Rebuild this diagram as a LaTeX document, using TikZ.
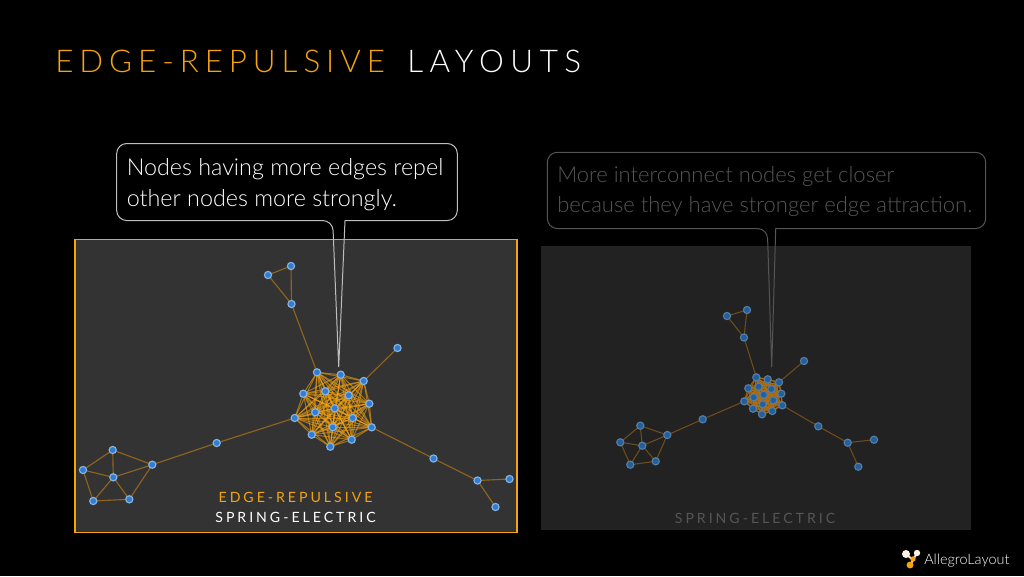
\documentclass[tikz,border=0pt]{standalone}
\usepackage{fontspec}
\setmainfont{Lato Light}[BoldFont={Lato}]
\newfontfamily\spaced{Lato}[LetterSpace=21]
\newfontfamily\spacedl{Lato Light}[LetterSpace=19]
\newfontfamily\spacedm{Lato Light}[LetterSpace=21]
\definecolor{org}{HTML}{F5A30F}
\definecolor{edgel}{HTML}{8F6420}
\definecolor{edgeb}{HTML}{6E4C1B}
\definecolor{nlf}{RGB}{50,125,210}
\definecolor{nld}{RGB}{135,180,225}
\definecolor{nrf}{RGB}{35,95,155}
\definecolor{nrd}{RGB}{85,125,165}
\definecolor{crc}{RGB}{175,110,15}
\definecolor{pa}{RGB}{51,51,51}
\definecolor{pb}{RGB}{34,34,34}
\definecolor{dim}{RGB}{85,85,85}
\definecolor{lite}{RGB}{190,190,190}
\begin{document}
\begin{tikzpicture}[x=0.75pt,y=-0.75pt,
 ln/.style={circle,draw=nld,line width=0.85pt,fill=nlf,inner sep=0pt,minimum size=5.4pt},
 rn/.style={circle,draw=nrd,line width=0.85pt,fill=nrf,inner sep=0pt,minimum size=5.4pt},
 le/.style={draw=edgel,line width=0.85pt},
 re/.style={draw=edgeb,line width=0.8pt},
 ce/.style={draw=org,line width=0.7pt,opacity=0.36},
 cr/.style={draw=crc,line width=0.7pt,opacity=0.6},
 txt/.style={text=white,anchor=base west,inner sep=0pt}]
\useasboundingbox (0,0) rectangle (1024,576);
\fill[black] (0,0) rectangle (1024,576);
\node[txt,font=\spacedl\fontsize{23.5pt}{28pt}\selectfont] (t1) at (55,72) {\textcolor{org}{EDGE-REPULSIVE}};
\node[txt,font=\spacedm\fontsize{23.5pt}{28pt}\selectfont] (t2) at (407,72) {LAYOUTS};
% panels
\node[draw=org,line width=1.05pt,outer sep=0pt,fill=pa,minimum width=331.5pt,minimum height=219.9pt,inner sep=0pt,anchor=north west] (pl) at (75,239.5) {};
\node[fill=pb,minimum width=322.5pt,minimum height=213pt,inner sep=0pt,outer sep=0pt,anchor=north west] (pr) at (541,246) {};
% left graph
\foreach \n/\x/\y in {a/317/372.3,b/340.7/374.7,c/363.7/381,d/303.3/393.7,e/325.3/391.3,f/348.7/395.3,g/369.3/403.7,h/334.7/408.3,i/315.3/412.3,j/352.7/418,k/294.7/418,l/332.7/427.3,m/371.7/427.3,n/311.7/434.7,o/351.7/439.7,p/330.3/446.7}
  {\coordinate (\n) at (\x,\y);}
\foreach \n/\x/\y in {a/756.3/377.3,b/767.7/379.3,c/779/382.3,d/748.3/388.3,e/758.7/386.7,f/771.3/389,g/781.3/393.7,h/763.7/394.7,i/753.7/397.3,j/773.3/400.3,k/744.3/401.3,l/762.7/404.3,m/782.3/405.3,n/753/408.7,o/772.3/411,p/762/414.3}
  {\coordinate (r\n) at (\x,\y);}
\foreach \u in {a,b,c,d,e,f,g,h,i,j,k,l,m,n,o,p}{
 \foreach \v in {a,b,c,d,e,f,g,h,i,j,k,l,m,n,o,p}{
  \ifx\u\v\else
   \draw[ce] (\u) -- (\v);
   \draw[cr] (r\u) -- (r\v);
  \fi
 }}
\coordinate (l1) at (268,275);\coordinate (l2) at (291,266);\coordinate (l3) at (291.5,304);
\coordinate (l4) at (397.5,348);\coordinate (l5) at (216.7,443);\coordinate (l6) at (152.3,464.7);
\coordinate (l7) at (112.7,450);\coordinate (l8) at (83,470);\coordinate (l9) at (113.3,477.3);
\coordinate (l10) at (93.3,501);\coordinate (l11) at (129.3,499.3);
\coordinate (l12) at (433.5,458.5);\coordinate (l13) at (477.5,480.5);\coordinate (l14) at (509.5,479);\coordinate (l15) at (495.5,507);
\foreach \u/\v in {l1/l2,l1/l3,l2/l3,l3/a,c/l4,k/l5,l5/l6,l6/l7,l6/l9,l6/l11,l7/l8,l7/l9,l8/l9,l8/l10,l9/l10,l9/l11,l10/l11,m/l12,l12/l13,l13/l14,l13/l15}
  \draw[le] (\u) -- (\v);
\foreach \p in {a,b,c,d,e,f,g,h,i,j,k,l,m,n,o,p,l1,l2,l3,l4,l5,l6,l7,l8,l9,l10,l11,l12,l13,l14,l15}
  \node[ln] (nl\p) at (\p) {};
% right graph
\coordinate (r1) at (727,316);\coordinate (r2) at (747,310);\coordinate (r3) at (744,337.5);
\coordinate (r4) at (804,361);\coordinate (r5) at (702.7,419.3);\coordinate (r6) at (667.3,435);
\coordinate (r7) at (640.3,425.7);\coordinate (r8) at (620.3,442.3);\coordinate (r9) at (642.3,445.7);
\coordinate (r10) at (630.3,464.7);\coordinate (r11) at (655.7,461.3);
\coordinate (r12) at (818.3,426.3);\coordinate (r13) at (847.7,442.7);\coordinate (r14) at (874,439.7);\coordinate (r15) at (858.3,466.7);
\foreach \u/\v in {r1/r2,r1/r3,r2/r3,r3/ra,rc/r4,rk/r5,r5/r6,r6/r7,r6/r9,r6/r11,r7/r8,r7/r9,r8/r9,r8/r10,r9/r10,r9/r11,r10/r11,rm/r12,r12/r13,r13/r14,r13/r15}
  \draw[re] (\u) -- (\v);
\foreach \p in {ra,rb,rc,rd,re,rf,rg,rh,ri,rj,rk,rl,rm,rn,ro,rp,r1,r2,r3,r4,r5,r6,r7,r8,r9,r10,r11,r12,r13,r14,r15}
  \node[rn] (nr\p) at (\p) {};
% panel labels
\node[font=\spaced\fontsize{10.6pt}{12pt}\selectfont,text=org,inner sep=0pt,anchor=base] (lb1) at (295.5,502.5) {EDGE-REPULSIVE};
\node[font=\spaced\fontsize{10.6pt}{12pt}\selectfont,text=white,inner sep=0pt,anchor=base] (lb2) at (295.5,522) {SPRING-ELECTRIC};
\node[font=\spaced\fontsize{10.6pt}{12pt}\selectfont,text=dim,inner sep=0pt,anchor=base] (lb3) at (755,523) {SPRING-ELECTRIC};
% callouts
\coordinate (t1a) at (332.7,220.5);\coordinate (t1b) at (345,220.5);\coordinate (t1t) at (338.7,367);
\coordinate (t2a) at (767.3,228.5);\coordinate (t2b) at (775.7,228.5);\coordinate (t2t) at (771.7,367);
\draw[draw=lite,line width=0.75pt,rounded corners=7.5pt]
 (t1b) -- (457.3,220.5) -- (457.3,143.5) -- (116.7,143.5) -- (116.7,220.5) -- (t1a) [sharp corners] -- (t1t) -- (t1b);
\draw[draw=dim,line width=0.75pt,rounded corners=7.5pt]
 (t2b) -- (985.7,228.5) -- (985.7,152.3) -- (547.3,152.3) -- (547.3,228.5) -- (t2a) [sharp corners] -- (t2t) -- (t2b);
\node[txt,font=\fontsize{17.5pt}{22pt}\selectfont] (c1a) at (126.5,175) {Nodes having more edges repel};
\node[txt,font=\fontsize{17.5pt}{22pt}\selectfont] (c1b) at (126.5,206) {other nodes more strongly.};
\node[txt,text=dim,font=\fontsize{16.5pt}{22pt}\selectfont] (c2a) at (557,182.5) {More interconnect nodes get closer};
\node[txt,text=dim,font=\fontsize{16.5pt}{22pt}\selectfont] (c2b) at (557,212.5) {because they have stronger edge attraction.};
% logo
\node[txt,font=\fontsize{10.8pt}{12pt}\selectfont] (logo) at (924,564) {AllegroLayout};
\draw[white!85!orange,line width=1.4pt] (906,554)--(913,560)--(917,553) (913,560)--(910,566);
\fill[white!90!orange] (906,554) circle (3pt) (917,553) circle (2.4pt);
\fill[org] (910,565) circle (2.6pt) (913,559) circle (2pt);
\end{tikzpicture}
\end{document}
